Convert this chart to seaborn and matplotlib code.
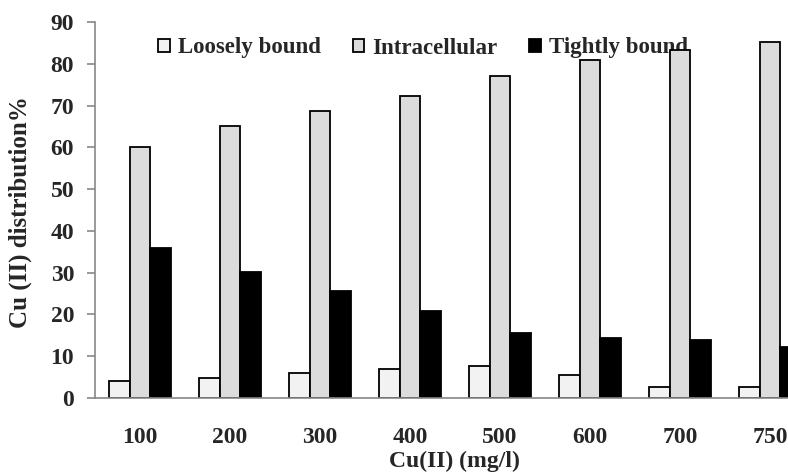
import matplotlib
matplotlib.use("Agg")
import matplotlib.pyplot as plt
from matplotlib.patches import Patch
import seaborn as sns
import pandas as pd

categories = ["100", "200", "300", "400", "500", "600", "700", "750"]
series_names = ["Loosely bound", "Intracellular", "Tightly bound"]
loosely = [4.1, 4.7, 5.9, 7.0, 7.6, 5.4, 2.7, 2.7]
intracellular = [60.0, 65.2, 68.8, 72.4, 77.1, 80.8, 83.3, 85.2]
tightly = [36.0, 30.2, 25.6, 20.9, 15.5, 14.3, 14.0, 12.3]
colors = ["#F2F2F2", "#DCDCDC", "#000000"]
y_ticks = [0, 10, 20, 30, 40, 50, 60, 70, 80, 90]

rows = []
for name, vals in zip(series_names, [loosely, intracellular, tightly]):
    for c, v in zip(categories, vals):
        rows.append({"conc": c, "series": name, "value": v})
df = pd.DataFrame(rows)

sns.set_style("white")
plt.rcParams["font.family"] = ["Liberation Serif", "DejaVu Serif"]
plt.rcParams["font.weight"] = "bold"

W, H = 788, 472
fig = plt.figure(figsize=(W / 100, H / 100), dpi=100)
left, right, bottom, top = 95, 815, 398, 22
ax = fig.add_axes([left / W, 1 - bottom / H, (right - left) / W, (bottom - top) / H])

sns.barplot(data=df, x="conc", y="value", hue="series", order=categories,
            hue_order=series_names, palette=colors, width=0.69, gap=0,
            edgecolor="black", linewidth=1.3, saturation=1, errorbar=None,
            legend=False, ax=ax, zorder=2)

ax.set_xlim(-0.5, len(categories) - 0.5)
ax.set_ylim(0, 90)
ax.set_yticks(y_ticks)
ax.set_yticklabels([str(t) for t in y_ticks], fontsize=17, fontweight="bold")
ax.set_xticks(range(len(categories)))
ax.set_xticklabels(categories, fontsize=17, fontweight="bold")
ax.set_xticks([i - 0.5 for i in range(len(categories) + 1)], minor=True)
ax.tick_params(axis="x", which="major", length=0, pad=21)
ax.tick_params(axis="x", which="minor", length=6, width=1.2, color="#888888", direction="out")
ax.tick_params(axis="y", which="major", length=6, width=1.2, color="#888888", direction="out", pad=9, left=True)

for s in ["top", "right"]:
    ax.spines[s].set_visible(False)
for s in ["left", "bottom"]:
    ax.spines[s].set_visible(True)
    ax.spines[s].set_color("#888888")
    ax.spines[s].set_linewidth(1.2)

ax.set_xlabel("Cu(II) (mg/l)", fontsize=17, fontweight="bold")
ax.xaxis.set_label_coords((454 - left) / (right - left), -(461 - bottom) / (bottom - top))
ax.xaxis.label.set_va("center")
ax.set_ylabel("Cu (II) distribution%", fontsize=18, fontweight="bold")
ax.yaxis.set_label_coords(-(left - 20) / (right - left), (bottom - 212) / (bottom - top))
ax.yaxis.label.set_va("center")

handles = [Patch(facecolor=c, edgecolor="black", linewidth=1.3) for c in colors]
leg = ax.legend(handles, series_names, loc="center", bbox_to_anchor=(423 / W, 1 - 48 / H),
                bbox_transform=fig.transFigure,
                ncol=3, frameon=False, handlelength=0.5, handleheight=0.5,
                handletextpad=0.35, columnspacing=1.4, borderpad=0,
                prop={"weight": "bold", "size": 16.5})
leg.set_zorder(1)

fig.savefig("out.png", dpi=100)
